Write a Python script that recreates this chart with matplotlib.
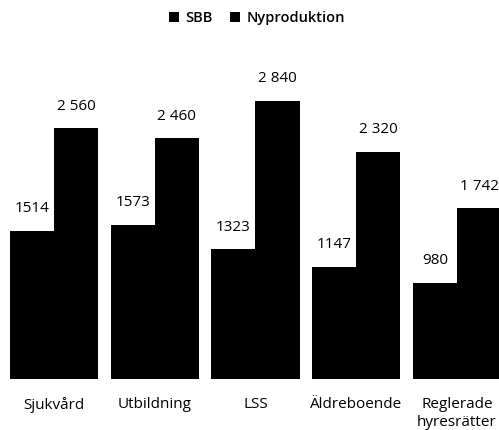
import matplotlib
matplotlib.use('Agg')
import matplotlib.pyplot as plt
import numpy as np
from matplotlib.patches import Patch

# Values per category
categories = ['Sjukvård', 'Utbildning', 'LSS', 'Äldreboende', 'Reglerade\nhyresrätter']
sbb = [1514, 1573, 1323, 1147, 980]
nyproduktion = [2560, 2460, 2840, 2320, 1742]
series_names = ['SBB', 'Nyproduktion']

def fmt(v):
    # Swedish style thousands separator, only for the Nyproduktion series
    return f"{v:,}".replace(',', ' ')

plt.rcParams['font.family'] = ['Open Sans', 'DejaVu Sans']

fig = plt.figure(figsize=(4.99, 4.30), dpi=100)
ax = fig.add_axes([0.0, 0.1186, 1.0, 0.683])

x = np.arange(len(categories))
w = 0.437

b1 = ax.bar(x - w / 2, sbb, width=w, color='black', linewidth=0)
b2 = ax.bar(x + w / 2, nyproduktion, width=w, color='black', linewidth=0)

for rect, v in zip(b1, sbb):
    ax.annotate(str(v), (rect.get_x() + rect.get_width() / 2, v),
                xytext=(0, 10.5), textcoords='offset points',
                ha='center', va='bottom', fontsize=11)
for rect, v in zip(b2, nyproduktion):
    ax.annotate(fmt(v), (rect.get_x() + rect.get_width() / 2, v),
                xytext=(0, 10.5), textcoords='offset points',
                ha='center', va='bottom', fontsize=11)

ax.set_xlim(-0.536, 4.417)
ax.set_ylim(0, 3000)
ax.set_xticks(x)
ax.set_xticklabels(categories, fontsize=11, linespacing=1.25)
ax.tick_params(axis='x', length=0, pad=13)
ax.set_yticks([])
for s in ax.spines.values():
    s.set_visible(False)

handles = [Patch(facecolor='black', label=n) for n in series_names]
fig.legend(handles=handles, loc='upper center', bbox_to_anchor=(0.515, 1.005),
           ncol=2, frameon=False, handlelength=0.7,
           handleheight=0.7, handletextpad=0.4, columnspacing=1.2,
           prop={'weight': 'semibold', 'size': 10.5})

fig.savefig('out.png', dpi=100)
plt.close(fig)
